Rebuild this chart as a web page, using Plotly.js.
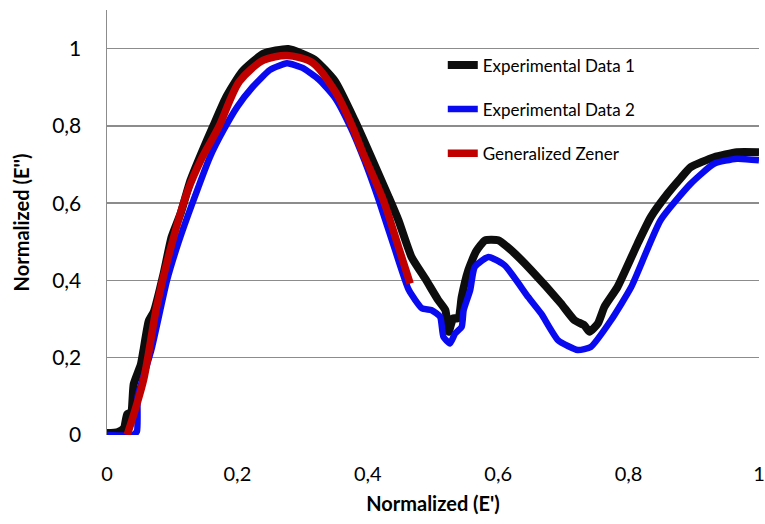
<!DOCTYPE html>
<html>
<head>
<meta charset="utf-8">
<script src="https://cdn.plot.ly/plotly-3.0.1.min.js"></script>
<style>html,body{margin:0;padding:0;background:#fff;}#chart{width:765px;height:524px;}</style>
</head>
<body>
<div id="chart"></div>
<script>
var exp1X = [0, 0.017, 0.026, 0.031, 0.037, 0.041, 0.052, 0.056, 0.064, 0.072, 0.087, 0.099, 0.113, 0.128, 0.145, 0.163, 0.182, 0.207, 0.240, 0.278, 0.318, 0.350, 0.380, 0.405, 0.432, 0.447, 0.467, 0.488, 0.508, 0.519, 0.524, 0.531, 0.539, 0.544, 0.554, 0.566, 0.580, 0.600, 0.620, 0.651, 0.696, 0.717, 0.732, 0.740, 0.753, 0.763, 0.783, 0.814, 0.834, 0.860, 0.880, 0.895, 0.931, 0.966, 1.0];
var exp1Y = [0.005, 0.008, 0.018, 0.054, 0.059, 0.132, 0.183, 0.220, 0.295, 0.320, 0.419, 0.512, 0.574, 0.659, 0.73, 0.80, 0.872, 0.940, 0.987, 0.999, 0.972, 0.915, 0.814, 0.72, 0.616, 0.556, 0.461, 0.405, 0.349, 0.323, 0.267, 0.302, 0.302, 0.357, 0.426, 0.475, 0.504, 0.504, 0.478, 0.426, 0.341, 0.297, 0.284, 0.267, 0.289, 0.332, 0.383, 0.496, 0.564, 0.625, 0.665, 0.693, 0.719, 0.732, 0.732];

var exp2X = [0, 0.040, 0.046, 0.047, 0.052, 0.068, 0.092, 0.110, 0.131, 0.158, 0.179, 0.200, 0.223, 0.250, 0.276, 0.300, 0.325, 0.350, 0.374, 0.395, 0.417, 0.442, 0.463, 0.483, 0.498, 0.511, 0.516, 0.526, 0.534, 0.544, 0.547, 0.557, 0.564, 0.585, 0.610, 0.646, 0.666, 0.692, 0.722, 0.742, 0.773, 0.804, 0.849, 0.895, 0.931, 0.966, 1.0];
var exp2Y = [0, 0, 0.01, 0.10, 0.13, 0.22, 0.40, 0.50, 0.60, 0.72, 0.79, 0.85, 0.90, 0.945, 0.962, 0.950, 0.920, 0.872, 0.795, 0.71, 0.607, 0.478, 0.375, 0.328, 0.323, 0.306, 0.254, 0.237, 0.263, 0.280, 0.323, 0.375, 0.435, 0.461, 0.439, 0.357, 0.314, 0.245, 0.220, 0.228, 0.297, 0.383, 0.556, 0.650, 0.702, 0.715, 0.711];

var zenerX = [0.031, 0.056, 0.076, 0.098, 0.124, 0.145, 0.171, 0.203, 0.240, 0.276, 0.315, 0.350, 0.377, 0.391, 0.424, 0.447, 0.465];
var zenerY = [0, 0.142, 0.331, 0.486, 0.633, 0.715, 0.796, 0.915, 0.970, 0.982, 0.964, 0.889, 0.796, 0.736, 0.607, 0.487, 0.392];

var xTicks = [0, 0.2, 0.4, 0.6, 0.8, 1];
var yTicks = [0, 0.2, 0.4, 0.6, 0.8, 1];

var font = 'Lato, "Open Sans", sans-serif';

var traces = [
  {x: exp1X, y: exp1Y, name: 'Experimental Data 1', mode: 'lines', legendgroup: 'a',
   line: {color: '#0d0d0d', width: 8, shape: 'spline', smoothing: 0.5}},
  {x: exp2X, y: exp2Y, name: 'Experimental Data 2', mode: 'lines', legendgroup: 'b',
   line: {color: '#0a0af0', width: 6.5, shape: 'spline', smoothing: 0.5}},
  {x: zenerX, y: zenerY, name: 'Generalized Zener', mode: 'lines', legendgroup: 'c',
   line: {color: '#c00000', width: 7.5, shape: 'spline', smoothing: 0.8}}
];

var layout = {
  width: 765, height: 524,
  margin: {l: 107, r: 6, t: 10, b: 89},
  paper_bgcolor: '#ffffff', plot_bgcolor: '#ffffff',
  separators: ',.',
  font: {family: font, color: '#000000', size: 20},
  showlegend: true,
  legend: {x: 0.515, y: 0.912, xanchor: 'left', yanchor: 'top', bgcolor: 'rgba(0,0,0,0)',
           font: {family: font, size: 17, color: '#000'}, tracegroupgap: 19, traceorder: 'grouped'},
  xaxis: {range: [0, 1], tickvals: xTicks, ticktext: xTicks.map(function(v){return String(v).replace('.', ',');}),
          showgrid: false, zeroline: false, showline: false, ticklabeloverflow: 'allow',
          ticks: 'outside', ticklen: 21, tickcolor: 'rgba(0,0,0,0)',
          tickfont: {family: font, size: 20},
          title: {text: "Normalized (E')", font: {family: font, size: 20, weight: 'bold'}, standoff: 12}},
  yaxis: {range: [0, 1.1], tickvals: yTicks, ticktext: yTicks.map(function(v){return String(v).replace('.', ',');}),
          showgrid: true, gridcolor: '#8c8c8c', gridwidth: 1.5, zeroline: false,
          showline: true, linecolor: '#8c8c8c', linewidth: 1.5,
          ticks: 'outside', ticklen: 20, tickcolor: 'rgba(0,0,0,0)',
          tickfont: {family: font, size: 21},
          title: {text: "Normalized (E'')", font: {family: font, size: 20, weight: 'bold'}, standoff: 17}}
};

Plotly.newPlot('chart', traces, layout, {staticPlot: true, displayModeBar: false});
</script>
</body>
</html>
